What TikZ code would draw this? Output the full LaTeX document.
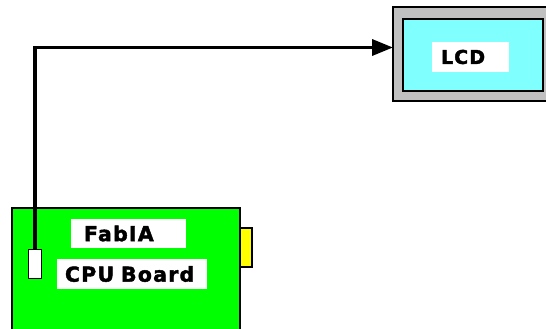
\documentclass[tikz,border=0pt]{standalone}
\usepackage{fontspec}
\newfontfamily\labelfont[LetterSpace=6,FakeBold=2]{DejaVu Sans Bold}
\usetikzlibrary{arrows.meta}
\definecolor{lcdgray}{RGB}{192,192,192}
\definecolor{lcdcyan}{RGB}{128,255,255}
\definecolor{boardgreen}{RGB}{0,255,0}
\definecolor{tabyellow}{RGB}{255,255,0}
\tikzset{
  box/.style={draw=black, line width=2pt, inner sep=0pt, outer sep=0pt},
  whitelabel/.style={fill=white, inner ysep=0pt, align=left, anchor=west, outer sep=0pt, font=\labelfont},
  wire/.style={line width=3.5pt, -{Triangle[length=21pt,width=16pt]}}
}
\begin{document}
\begin{tikzpicture}[x=1pt,y=-1pt]
\useasboundingbox (0,0) rectangle (546,329);
\begin{scope}
\clip (0,0) rectangle (546,329);
% LCD
\node[box, fill=lcdgray, minimum width=158pt, minimum height=94pt] (lcdouter) at (472,54) {};
\node[box, fill=lcdcyan, minimum width=140pt, minimum height=72pt] (lcdinner) at (473,55) {};
\node[whitelabel, font=\labelfont\fontsize{19}{19}\selectfont, inner xsep=9pt, text width=59pt, minimum height=30pt] (lcdlabel) at (432,57) {LCD};
% CPU board
\node[box, fill=tabyellow, minimum width=13pt, minimum height=39pt] (tab) at (245.5,247.5) {};
\node[box, fill=boardgreen, minimum width=228pt, minimum height=140pt] (board) at (126,278) {};
\node[whitelabel, font=\labelfont\fontsize{20.5}{20.5}\selectfont, inner xsep=13pt, text width=89pt, minimum height=29pt] (fabia) at (71,233.5) {FabIA};
\node[whitelabel, font=\labelfont\fontsize{20.5}{20.5}\selectfont, inner xsep=8pt, text width=134pt, minimum height=30pt] (cpu) at (57,274) {CPU Board};
\node[draw=black, line width=1.5pt, fill=white, minimum width=13pt, minimum height=29pt, inner sep=0pt] (conn) at (35,264) {};
\end{scope}
\draw[wire] (conn.north) |- ([yshift=6.5pt]lcdouter.west);
\end{tikzpicture}
\end{document}
